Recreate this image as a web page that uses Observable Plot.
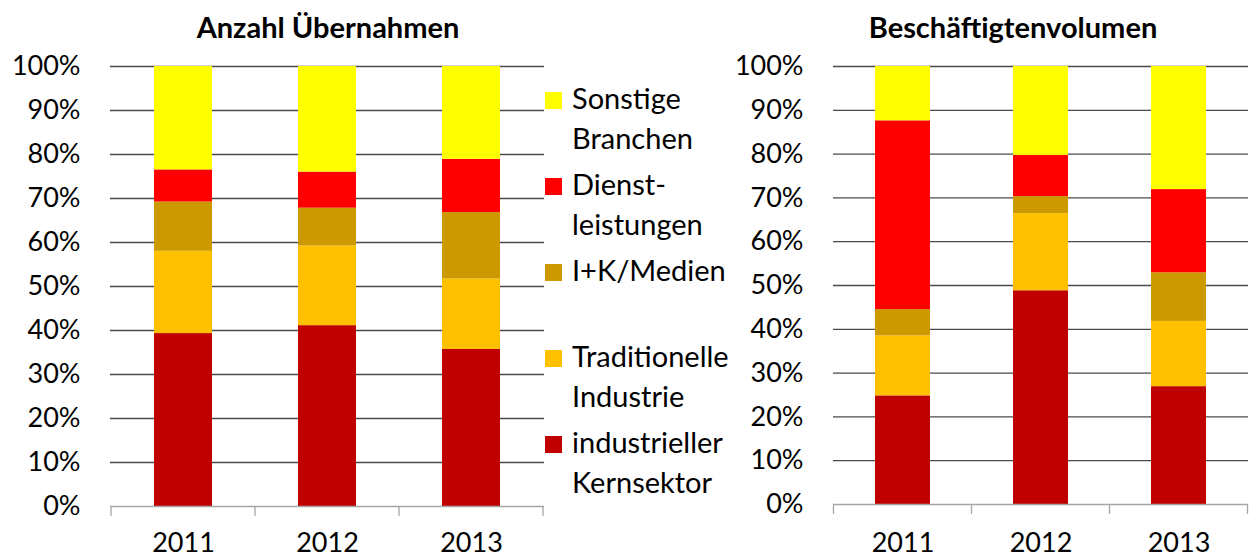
<!DOCTYPE html>
<html>
<head>
<meta charset="utf-8">
<script src="https://cdn.jsdelivr.net/npm/d3@7"></script>
<script src="https://cdn.jsdelivr.net/npm/@observablehq/plot@0.6"></script>
<style>
  html, body { margin: 0; padding: 0; background: #fff; }
  #wrap { position: relative; width: 1256px; height: 559px; overflow: hidden; font-family: Lato, "Open Sans", sans-serif; color: #000; }
  .panel { position: absolute; top: 0; }
  .title { position: absolute; top: 12px; transform: translateX(-50%); font-weight: bold; font-size: 29px; line-height: 29px; white-space: nowrap; }
  #legend { position: absolute; left: 545px; top: 78px; }
  .entry { position: relative; height: 80px; margin-bottom: 6px; }
  .sw { position: absolute; left: 0; top: 14px; width: 17px; height: 17px; }
  .lab { position: absolute; left: 27px; top: 0; font-size: 29px; line-height: 40px; white-space: pre; }
</style>
</head>
<body>
<div id="wrap">
  <div class="title" style="left:328px">Anzahl Übernahmen</div>
  <div class="title" style="left:1013px">Beschäftigtenvolumen</div>
  <div class="panel" id="left" style="left:0px"></div>
  <div class="panel" id="right" style="left:720px"></div>
  <div id="legend"></div>
</div>
<script>
// ---- data ----
const years = ["2011", "2012", "2013"];
const sectors = ["industrieller Kernsektor", "Traditionelle Industrie", "I+K/Medien", "Dienstleistungen", "Sonstige Branchen"];
const sectorColors = ["#C00000", "#FFC000", "#CC9900", "#FF0000", "#FFFF00"];
const legendLabels = ["industrieller\nKernsektor", "Traditionelle\nIndustrie", "I+K/Medien", "Dienst-\nleistungen", "Sonstige\nBranchen"];
const yTicks = [0, 10, 20, 30, 40, 50, 60, 70, 80, 90, 100];
const gridTicks = [10, 20, 30, 40, 50, 60, 70, 80, 90, 100];

// Anzahl Übernahmen (percent per sector, years 2011..2013)
const anzahlKern      = [39.3, 41.1, 35.7];
const anzahlTrad      = [18.7, 18.1, 16.0];
const anzahlIK        = [11.2,  8.6, 15.1];
const anzahlDienst    = [ 7.3,  8.2, 12.1];
const anzahlSonstige  = [23.5, 24.0, 21.1];

// Beschäftigtenvolumen
const beschKern      = [24.8, 48.8, 26.9];
const beschTrad      = [13.7, 17.6, 14.9];
const beschIK        = [ 6.0,  3.9, 11.1];
const beschDienst    = [43.1,  9.4, 19.0];
const beschSonstige  = [12.4, 20.3, 28.1];

const anzahlSeries = [anzahlKern, anzahlTrad, anzahlIK, anzahlDienst, anzahlSonstige];
const beschSeries = [beschKern, beschTrad, beschIK, beschDienst, beschSonstige];

function toRows(series) {
  const rows = [];
  sectors.forEach((s, si) => years.forEach((y, yi) => rows.push({year: y, sector: s, value: series[si][yi]})));
  return rows;
}

function boundaryTicks(index, scales, values, dimensions) {
  const ns = "http://www.w3.org/2000/svg";
  const g = document.createElementNS(ns, "g");
  const x = scales.x;
  let bw = typeof x.bandwidth === "function" ? x.bandwidth() : x.bandwidth;
  if (bw == null || isNaN(bw)) bw = 0;
  const step = x(years[1]) - x(years[0]);
  const gap = (step - bw) / 2;
  const y0 = dimensions.height - dimensions.marginBottom;
  const xs = years.map(y => x(y) - gap).concat([x(years[years.length - 1]) + bw + gap]);
  for (const xx of xs) {
    const l = document.createElementNS(ns, "line");
    l.setAttribute("x1", xx); l.setAttribute("x2", xx);
    l.setAttribute("y1", y0); l.setAttribute("y2", y0 + 10);
    l.setAttribute("stroke", "#a6a6a6");
    l.setAttribute("stroke-width", 1.3);
    g.appendChild(l);
  }
  return g;
}

function panel(series, dims) {
  return Plot.plot({
    width: dims.width,
    height: 559,
    marginLeft: dims.marginLeft,
    marginRight: dims.marginRight,
    marginTop: dims.marginTop,
    marginBottom: dims.marginBottom,
    style: {fontFamily: "Lato, 'Open Sans', sans-serif", fontSize: "27px", color: "#000", background: "transparent", overflow: "visible"},
    x: {domain: years, paddingInner: 0.6, paddingOuter: 0.3, label: null, tickSize: 0, tickPadding: dims.xPad},
    y: {domain: [0, 100], label: null, ticks: yTicks, tickFormat: d => d + "%", tickSize: 0, tickPadding: 30},
    color: {domain: sectors, range: sectorColors},
    marks: [
      Plot.ruleY(gridTicks, {stroke: "#4a4a4a", strokeWidth: 1.3}),
      Plot.barY(toRows(series), {x: "year", y: "value", fill: "sector", inset: 0}),
      Plot.ruleY([0], {stroke: "#a6a6a6", strokeWidth: 1.3}),
      boundaryTicks
    ]
  });
}

document.getElementById("left").appendChild(panel(anzahlSeries, {width: 560, marginLeft: 110, marginRight: 16, marginTop: 66, marginBottom: 53, xPad: 26}));
document.getElementById("right").appendChild(panel(beschSeries, {width: 536, marginLeft: 113, marginRight: 8, marginTop: 66, marginBottom: 55, xPad: 28}));

// legend (top to bottom: reverse of stacking order)
const legend = document.getElementById("legend");
for (let i = sectors.length - 1; i >= 0; --i) {
  const e = document.createElement("div");
  e.className = "entry";
  const sw = document.createElement("div");
  sw.className = "sw";
  sw.style.background = sectorColors[i];
  const lab = document.createElement("div");
  lab.className = "lab";
  lab.textContent = legendLabels[i];
  e.appendChild(sw); e.appendChild(lab);
  legend.appendChild(e);
}
</script>
</body>
</html>
